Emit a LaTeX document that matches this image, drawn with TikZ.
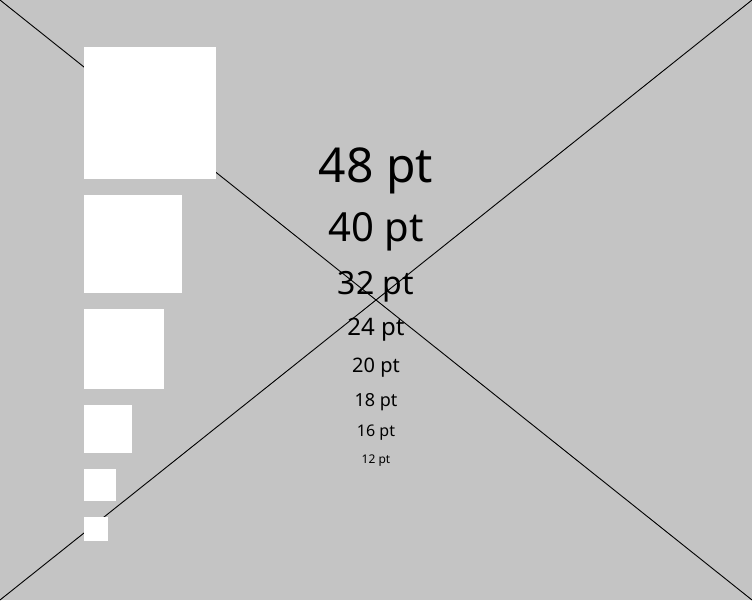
\documentclass[tikz,border=0pt]{standalone}
\usepackage{fontspec}
\setmainfont{Noto Sans}
\definecolor{bgray}{HTML}{C4C4C4}
\begin{document}
\begin{tikzpicture}[x=1pt,y=-1pt,
  sq/.style={fill=white,draw=none,inner sep=0pt,outer sep=0pt,anchor=north west},
  lbl/.style={anchor=base,inner sep=0pt,outer sep=0pt,text=black},
  diag/.style={draw=black,line width=0.9pt}]
\useasboundingbox (0,0) rectangle (752,600);
\fill[bgray] (0,0) rectangle (752,600);
\coordinate (tl) at (0,0);
\coordinate (tr) at (752,0);
\coordinate (bl) at (0,600);
\coordinate (br) at (752,600);
\draw[diag] (tl) -- (br);
\draw[diag] (bl) -- (tr);
\node[sq,minimum width=132pt,minimum height=132pt] (s1) at (84,47) {};
\node[sq,minimum width=98pt,minimum height=98pt] (s2) at (84,195) {};
\node[sq,minimum width=80pt,minimum height=80pt] (s3) at (84,309) {};
\node[sq,minimum width=48pt,minimum height=48pt] (s4) at (84,405) {};
\node[sq,minimum width=32pt,minimum height=32pt] (s5) at (84,469) {};
\node[sq,minimum width=24pt,minimum height=24pt] (s6) at (84,517) {};
\node[lbl,font=\fontsize{48}{48}\selectfont] (t48) at (376,182.7) {48 pt};
\node[lbl,font=\fontsize{40}{40}\selectfont] (t40) at (376,241.7) {40 pt};
\node[lbl,font=\fontsize{32}{32}\selectfont] (t32) at (376,294) {32 pt};
\node[lbl,font=\fontsize{24}{24}\selectfont] (t24) at (376,335.7) {24 pt};
\node[lbl,font=\fontsize{20}{20}\selectfont] (t20) at (376,372.3) {20 pt};
\node[lbl,font=\fontsize{18}{18}\selectfont] (t18) at (376,406) {18 pt};
\node[lbl,font=\fontsize{16}{16}\selectfont] (t16) at (376,436) {16 pt};
\node[lbl,font=\fontsize{12}{12}\selectfont] (t12) at (376,463.3) {12 pt};
\end{tikzpicture}
\end{document}
